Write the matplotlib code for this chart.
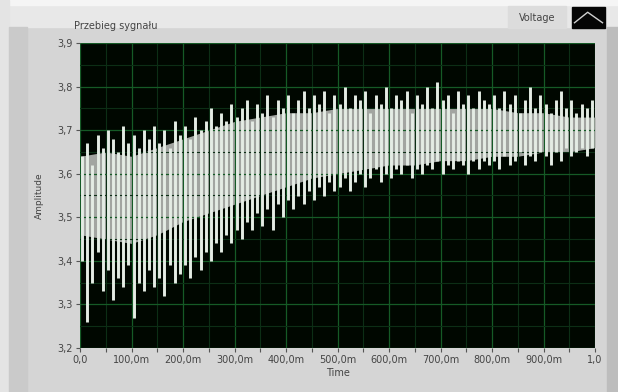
import numpy as np
import matplotlib
matplotlib.use("Agg")
import matplotlib.pyplot as plt
from matplotlib.patches import Rectangle
from matplotlib.ticker import MultipleLocator, FixedLocator

# ---- data ----
t0 = 0.0            # start time (s)
period = 0.01       # one oscillation per 10 ms (s)
spike_high = [
    3.64, 3.67, 3.62, 3.69, 3.66, 3.70, 3.68, 3.65, 3.71, 3.67,
    3.69, 3.66, 3.70, 3.68, 3.71, 3.67, 3.70, 3.66, 3.72, 3.69,
    3.71, 3.68, 3.73, 3.70, 3.72, 3.75, 3.71, 3.74, 3.72, 3.76,
    3.73, 3.75, 3.77, 3.72, 3.76, 3.74, 3.78, 3.73, 3.77, 3.75,
    3.78, 3.74, 3.77, 3.79, 3.75, 3.78, 3.76, 3.79, 3.74, 3.78,
    3.76, 3.80, 3.75, 3.78, 3.77, 3.79, 3.74, 3.78, 3.76, 3.80,
    3.75, 3.78, 3.77, 3.79, 3.74, 3.78, 3.76, 3.80, 3.75, 3.81,
    3.77, 3.78, 3.74, 3.79, 3.76, 3.78, 3.75, 3.79, 3.77, 3.76,
    3.78, 3.75, 3.79, 3.76, 3.78, 3.74, 3.77, 3.80, 3.75, 3.78,
    3.76, 3.74, 3.77, 3.79, 3.75, 3.77, 3.74, 3.76, 3.75, 3.77,
]
spike_low = [
    3.40, 3.26, 3.35, 3.42, 3.33, 3.38, 3.31, 3.36, 3.34, 3.39,
    3.27, 3.35, 3.33, 3.38, 3.34, 3.36, 3.32, 3.39, 3.35, 3.37,
    3.39, 3.36, 3.41, 3.38, 3.42, 3.40, 3.44, 3.42, 3.46, 3.44,
    3.47, 3.45, 3.49, 3.47, 3.51, 3.48, 3.52, 3.47, 3.53, 3.50,
    3.54, 3.52, 3.55, 3.53, 3.56, 3.54, 3.57, 3.55, 3.58, 3.56,
    3.57, 3.59, 3.56, 3.58, 3.60, 3.57, 3.59, 3.61, 3.58, 3.60,
    3.59, 3.61, 3.60, 3.62, 3.59, 3.61, 3.60, 3.62, 3.61, 3.63,
    3.60, 3.62, 3.61, 3.63, 3.62, 3.60, 3.63, 3.61, 3.63, 3.62,
    3.63, 3.61, 3.64, 3.62, 3.63, 3.65, 3.62, 3.64, 3.63, 3.65,
    3.64, 3.62, 3.65, 3.63, 3.66, 3.64, 3.65, 3.66, 3.64, 3.66,
]
# dense (grey-looking) core of the trace, every 50 ms
core_time = [0.00, 0.05, 0.10, 0.15, 0.20, 0.25, 0.30, 0.35, 0.40, 0.45, 0.50,
             0.55, 0.60, 0.65, 0.70, 0.75, 0.80, 0.85, 0.90, 0.95, 1.00]
core_low = [3.46, 3.45, 3.44, 3.46, 3.49, 3.51, 3.53, 3.55, 3.57, 3.59, 3.60,
            3.61, 3.62, 3.62, 3.63, 3.63, 3.64, 3.64, 3.65, 3.65, 3.66]
core_high = [3.64, 3.65, 3.64, 3.66, 3.68, 3.70, 3.72, 3.73, 3.74, 3.74, 3.75,
             3.75, 3.75, 3.75, 3.75, 3.75, 3.75, 3.74, 3.74, 3.73, 3.73]

x_ticks = [0.0, 0.1, 0.2, 0.3, 0.4, 0.5, 0.6, 0.7, 0.8, 0.9, 1.0]
x_labels = ["0,0", "100,0m", "200,0m", "300,0m", "400,0m", "500,0m",
            "600,0m", "700,0m", "800,0m", "900,0m", "1,0"]
y_ticks = [3.2, 3.3, 3.4, 3.5, 3.6, 3.7, 3.8, 3.9]
y_labels = ["3,2", "3,3", "3,4", "3,5", "3,6", "3,7", "3,8", "3,9"]

n = len(spike_high)
spike_t = [t0 + (i + 0.4) * period for i in range(n)]

W, H = 618, 392
fig = plt.figure(figsize=(W / 100, H / 100), dpi=100)
fig.patch.set_facecolor("#d5d5d5")

def frect(x0, y0, x1, y1, color):
    fig.patches.append(Rectangle((x0 / W, 1 - y1 / H), (x1 - x0) / W, (y1 - y0) / H,
                                 transform=fig.transFigure, color=color, zorder=-10))

frect(0, 0, W, 27, "#e8e8e8")
frect(0, 0, W, 5, "#f5f5f5")
frect(0, 0, 9, H, "#e4e4e4")
frect(9, 27, 27, H, "#cacaca")
frect(607, 27, W, H, "#bdbdbd")
frect(508, 6, 566, 28, "#dcdcdc")
frect(572, 7, 605, 28, "#050505")

ax = fig.add_axes([80 / W, 1 - 348 / H, (595 - 80) / W, (348 - 43) / H])
ax.set_facecolor("#000700")
ax.set_xlim(0, 1.0)
ax.set_ylim(3.2, 3.9)

ax.xaxis.set_major_locator(FixedLocator(x_ticks))
ax.xaxis.set_minor_locator(MultipleLocator(0.05))
ax.yaxis.set_major_locator(FixedLocator(y_ticks))
ax.yaxis.set_minor_locator(MultipleLocator(0.05))
ax.set_xticklabels(x_labels)
ax.set_yticklabels(y_labels)
ax.grid(which="major", color="#155a26", lw=0.9, zorder=0)
ax.grid(which="minor", color="#0c2e15", lw=0.8, zorder=0)
ax.tick_params(axis="both", which="both", colors="#555555", labelcolor="#444444",
               labelsize=7, direction="out", length=3, width=0.8, pad=2)
ax.tick_params(axis="y", which="minor", length=0)
for s in ax.spines.values():
    s.set_visible(False)

ax.fill_between(core_time, core_low, core_high, color="#a2a5a1", lw=0, zorder=1)
ax.vlines(spike_t, spike_low, spike_high, color="#e4ece4", lw=2.1, zorder=2)

ax.set_xlabel("Time", fontsize=7, color="#444444", labelpad=2)
ax.set_ylabel("Amplitude", fontsize=6.5, color="#444444", labelpad=10)
fig.text(74 / W, 1 - 29 / H, "Przebieg sygnału", fontsize=7, color="#444444",
         ha="left", va="baseline")
fig.text(537 / W, 1 - 18 / H, "Voltage", fontsize=7, color="#444444",
         ha="center", va="center")
lax = fig.add_axes([572 / W, 1 - 28 / H, 33 / W, 21 / H])
lax.set_axis_off()
lax.set_xlim(0, 4)
lax.set_ylim(0, 4)
lax.plot([0.3, 1.9, 3.7], [1.0, 3.0, 1.0], color="#d0d0d0", lw=1)

fig.savefig("out.png", dpi=100)
